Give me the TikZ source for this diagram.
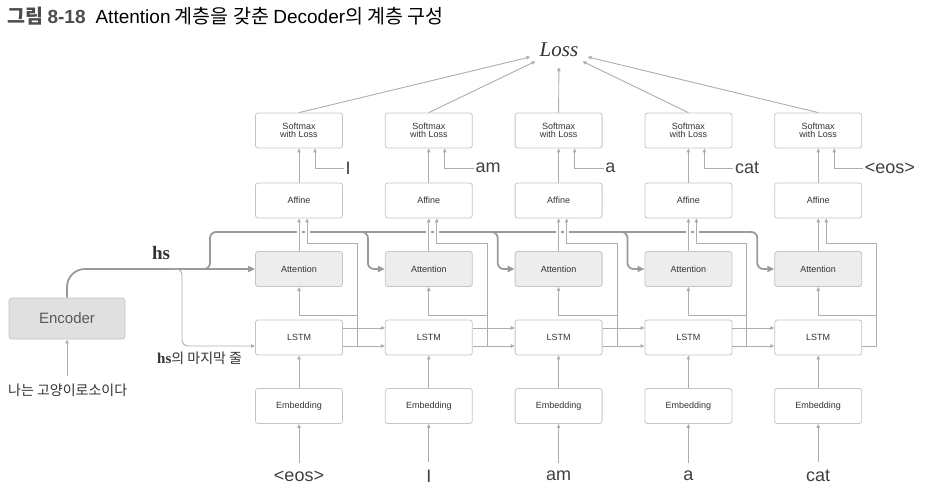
\documentclass[tikz,border=0pt]{standalone}
\usepackage{fontspec}
\setmainfont{Noto Sans CJK KR}
\newfontfamily\lat{Liberation Sans}
\newfontfamily\serif{Liberation Serif}
\usetikzlibrary{arrows.meta,shapes.geometric,calc}
\definecolor{bx}{HTML}{C4C4C4}
\definecolor{ar}{HTML}{ADADAD}
\definecolor{hsc}{HTML}{9A9A9A}
\definecolor{tx}{HTML}{333333}
\begin{document}
\begin{tikzpicture}[x=1pt,y=-1pt,
  box/.style={draw=bx, line width=0.8pt, rounded corners=2.5pt, minimum width=87pt, minimum height=35pt, inner sep=0pt, font=\lat\fontsize{9}{8.5}\selectfont, text=tx, align=center},
  attbox/.style={box, fill=black!7},
  arr/.style={draw=ar, line width=0.9pt, -{Triangle[length=4pt,width=3.5pt]}},
  hsl/.style={draw=hsc, line width=1.8pt},
  hsarr/.style={hsl, -{Triangle[length=7pt,width=6pt]}},
  lbl/.style={font=\lat\fontsize{18}{20}\selectfont, text=black!75, inner sep=1.5pt},
]
\useasboundingbox (0,0) rectangle (932,501);

% title
\node[anchor=west, font=\fontsize{19.5}{21}\selectfont, inner sep=0pt] (title) at (7,16)
  {{\bfseries\color{black!70}그림 {\lat\fontsize{19}{20}\selectfont 8-18}}\hspace{10pt}{\lat\fontsize{19}{20}\selectfont Attention} 계층을 갖춘 {\lat\fontsize{19}{20}\selectfont Decoder}의 계층 구성};

% loss
\node[ellipse, minimum width=62pt, minimum height=34pt, inner sep=0pt,
  font=\serif\itshape\fontsize{21}{22}\selectfont, text=tx] (loss) at (559,50) {Loss};

% encoder
\node[draw=bx, fill=black!12, line width=0.8pt, rounded corners=3pt, minimum width=116pt, minimum height=41pt,
  font=\lat\fontsize{15}{16}\selectfont, text=black!65] (enc) at (67,318.5) {Encoder};
\node[anchor=west, font=\fontsize{14}{16}\selectfont, text=tx, inner sep=1pt] (inp) at (7,390) {나는 고양이로소이다};
\draw[arr, shorten <=6pt] (inp.north -| enc.south) -- (enc.south);

\node[font=\serif\bfseries\fontsize{19}{20}\selectfont, text=tx] (hslbl) at (161,253) {hs};
\node[anchor=west, font=\fontsize{14}{16}\selectfont, text=tx, inner sep=0pt] (hsl2) at (157,358)
  {{\serif\bfseries\fontsize{15}{15}\selectfont hs}의 마지막 줄};

% columns
\foreach \i/\tw/\bw in {1/I/<eos>, 2/am/I, 3/a/am, 4/cat/a, 5/<eos>/cat}{
  \pgfmathsetmacro\cx{299+129.8*(\i-1)}
  \node[box] (sm\i) at (\cx,130.5) {Softmax\\with Loss};
  \node[box] (af\i) at (\cx,200.5) {Affine};
  \node[attbox] (at\i) at (\cx,269) {Attention};
  \node[box] (ls\i) at (\cx,337.5) {LSTM};
  \node[box] (em\i) at (\cx,406) {Embedding};
  \node[lbl, anchor=west] (t\i) at (\cx+45,168) {\tw};
  \node[lbl] (b\i) at (\cx,476) {\bw};
}

% hs lines
\draw[hsarr, rounded corners=18pt] (enc.north) |- (at1.west);
\draw[hsl, rounded corners=6pt] (196,269) -| (210,232) -- ($(at5.west)+(-30,-37)$);
\foreach \j in {2,...,5}{
  \draw[hsarr, rounded corners=6pt] ($(at\j.west)+(-30,-37)$) -| ($(at\j.west)+(-17,0)$) -- (at\j.west);
}
\draw[arr, rounded corners=6pt] (172,269) -| (182,346) -- ($(ls1.west)+(0,8.5)$);

% gaps where the arrows cross the hs line
\foreach \i in {1,...,4}{
  \fill[white] ($(af\i.south)+(-2.5,10.5)$) rectangle ($(af\i.south)+(2.5,17.5)$);
  \fill[white] ($(af\i.south)+(5.5,10.5)$) rectangle ($(af\i.south)+(10.5,17.5)$);
}

% column connectors
\foreach \i in {1,...,5}{
  \draw[arr] (af\i) -- (sm\i);
  \draw[arr] (t\i.west) -| ($(sm\i.south)+(16,0)$);
  \draw[arr] (sm\i.north) -- (loss);
  \draw[arr] (em\i) -- (ls\i);
  \draw[arr, shorten <=6pt] (b\i.north) -- (em\i.south);
  \draw[arr] (at\i) -- (af\i);
  \draw[arr] ($(ls\i.east)+(0,8.5)$) -- ++(14.5,0) |- ($(af\i.south)+(8,25)$) -- ($(af\i.south)+(8,0)$);
  \draw[arr] ($(ls\i.east)+(14.5,-22.5)$) -| (at\i.south);
}
\foreach \i/\j in {1/2,2/3,3/4,4/5}{
  \draw[arr] ($(ls\i.east)+(0,-9.5)$) -- ($(ls\j.west)+(0,-9.5)$);
  \draw[arr] ($(ls\i.east)+(0,8.5)$) -- ($(ls\j.west)+(0,8.5)$);
}
\end{tikzpicture}
\end{document}
